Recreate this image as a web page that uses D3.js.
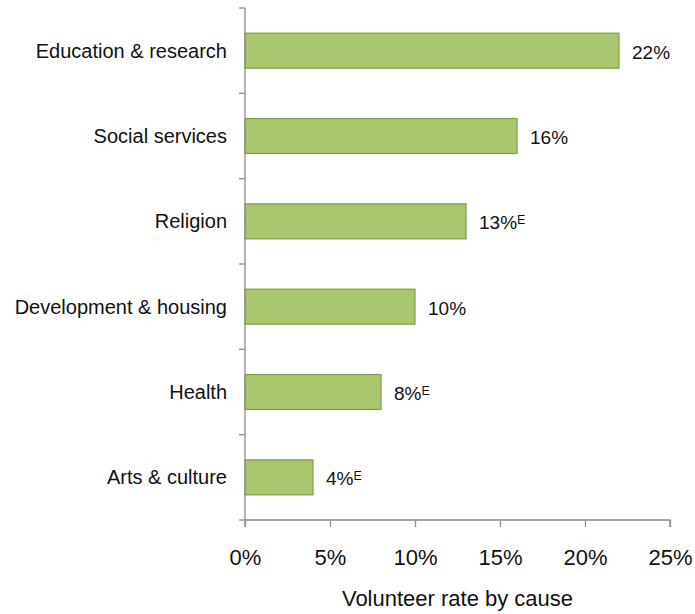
<!DOCTYPE html>
<html>
<head>
<meta charset="utf-8">
<script src="https://cdn.jsdelivr.net/npm/d3@7"></script>
<style>
  html, body { margin: 0; padding: 0; background: #fff; }
  svg { display: block; font-family: "Liberation Sans", Arial, sans-serif; }
</style>
</head>
<body>
<svg id="chart" width="695" height="614"></svg>
<script>
// Volunteer rate by cause
const causes = ["Education & research", "Social services", "Religion", "Development & housing", "Health", "Arts & culture"];
const rates = [22, 16, 13, 10, 8, 4];
const estimateFlags = [false, false, true, false, true, true];
const xTicks = [0, 5, 10, 15, 20, 25];
const axisTitle = "Volunteer rate by cause";

(function () {
  const svg = d3.select("#chart");
  const plotLeft = 245, plotRight = 670, plotTop = 8, plotBottom = 520;

  const x = d3.scaleLinear().domain([0, 25]).range([plotLeft, plotRight]);
  const y = d3.scaleBand().domain(causes).range([plotTop, plotBottom]).paddingInner(0.59).paddingOuter(0.295);

  const axisColor = "#8c8c8c";
  const textColor = "#111";

  // bars
  svg.append("g").selectAll("rect")
    .data(causes)
    .join("rect")
    .attr("x", x(0))
    .attr("y", d => y(d))
    .attr("width", (d, i) => x(rates[i]) - x(0))
    .attr("height", y.bandwidth())
    .attr("fill", "#a9c56e")
    .attr("stroke", "#7f9e45")
    .attr("stroke-width", 1.2);

  // value labels, with a superscript E on estimates
  const lab = svg.append("g").selectAll("text")
    .data(causes)
    .join("text")
    .attr("x", (d, i) => x(rates[i]) + 13)
    .attr("y", d => y(d) + y.bandwidth() / 2 + 8)
    .attr("font-size", 19)
    .attr("fill", textColor);
  lab.append("tspan").text((d, i) => rates[i] + "%");
  lab.filter((d, i) => estimateFlags[i])
    .append("tspan")
    .attr("font-size", 12.5)
    .attr("dy", -5)
    .text("E");

  // y axis: ticks at category boundaries, labels centred on bars
  const yAxisG = svg.append("g");
  yAxisG.append("line")
    .attr("x1", plotLeft).attr("x2", plotLeft)
    .attr("y1", plotTop).attr("y2", plotBottom)
    .attr("stroke", axisColor).attr("stroke-width", 1.3);
  const boundaries = d3.range(causes.length + 1).map(i => plotTop + i * (plotBottom - plotTop) / causes.length);
  yAxisG.selectAll("line.tk")
    .data(boundaries)
    .join("line")
    .attr("class", "tk")
    .attr("x1", plotLeft - 6).attr("x2", plotLeft)
    .attr("y1", d => d).attr("y2", d => d)
    .attr("stroke", axisColor).attr("stroke-width", 1.3);
  yAxisG.selectAll("text")
    .data(causes)
    .join("text")
    .attr("x", 227)
    .attr("y", d => y(d) + y.bandwidth() / 2 + 7)
    .attr("text-anchor", "end")
    .attr("font-size", 20)
    .attr("fill", textColor)
    .text(d => d);

  // x axis
  const xAxis = d3.axisBottom(x)
    .tickValues(xTicks)
    .tickFormat(d => d + "%")
    .tickSize(7)
    .tickPadding(18);
  const xg = svg.append("g")
    .attr("transform", `translate(0,${plotBottom})`)
    .call(xAxis);
  xg.select(".domain").attr("stroke", axisColor).attr("stroke-width", 1.3)
    .attr("d", `M${plotLeft},7V0H${plotRight}V7`);
  xg.selectAll(".tick line").attr("stroke", axisColor).attr("stroke-width", 1.3);
  xg.selectAll(".tick text")
    .attr("dy", null)
    .attr("y", 45)
    .attr("font-size", 22)
    .attr("fill", textColor)
    .attr("font-family", "Liberation Sans, Arial, sans-serif");

  // axis title
  svg.append("text")
    .attr("x", (plotLeft + plotRight) / 2)
    .attr("y", 606)
    .attr("text-anchor", "middle")
    .attr("font-size", 22)
    .attr("fill", textColor)
    .text(axisTitle);
})();
</script>
</body>
</html>
